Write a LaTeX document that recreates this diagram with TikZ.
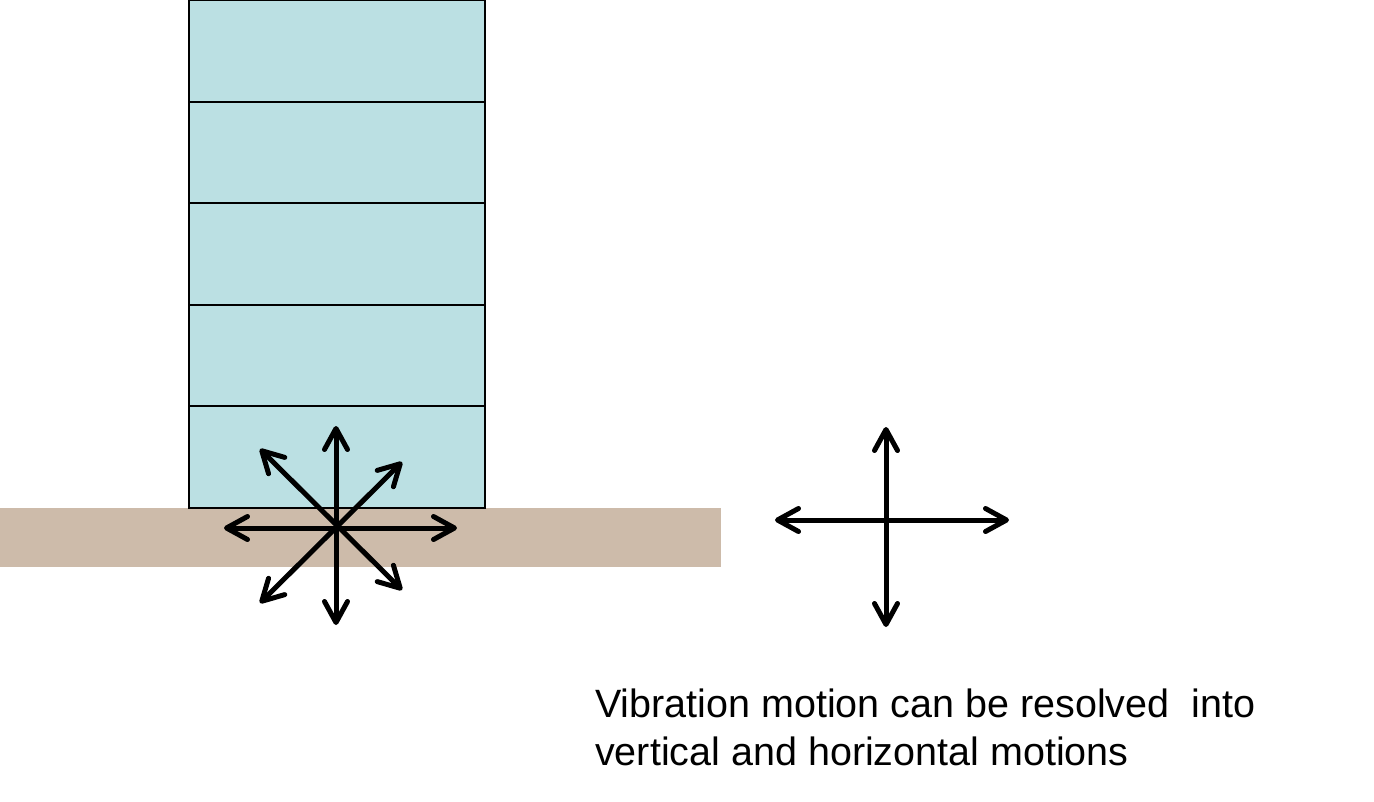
\documentclass[tikz,border=0pt]{standalone}
\usepackage{fontspec}
\setmainfont{Liberation Sans}
\usetikzlibrary{arrows.meta}
\definecolor{floorblue}{HTML}{BBE0E3}
\definecolor{soil}{HTML}{CDBBAA}

\begin{document}
\begin{tikzpicture}[x=1pt,y=-1pt,
  motion/.style={line width=5pt,
    {Straight Barb[length=21pt,width=23pt,round]}-{Straight Barb[length=21pt,width=23pt,round]}}]
\useasboundingbox (0,0) rectangle (1374,801);
% ground and building
\fill[soil] (0,508) rectangle (721,567);
\foreach \k in {0,...,4}
  \draw[line width=2pt,fill=floorblue] (189,{\k*101.6}) rectangle (485,{(\k+1)*101.6});
% vibration at the base
\coordinate (up) at (336,426);
\coordinate (down) at (336,625);
\coordinate (left) at (224,528);
\coordinate (right) at (457,528);
\coordinate (ul) at (260,449);
\coordinate (lr) at (402,590);
\coordinate (ur) at (402,462);
\coordinate (ll) at (260,603);
\draw[motion] (up) -- (down);
\draw[motion] (left) -- (right);
\draw[motion] (ul) -- (lr);
\draw[motion] (ur) -- (ll);
% resolved components
\coordinate (vtop) at (886,427);
\coordinate (vbot) at (886,627);
\coordinate (hleft) at (775,520);
\coordinate (hright) at (1009,520);
\draw[motion] (vtop) -- (vbot);
\draw[motion] (hleft) -- (hright);
\node[anchor=base west,align=left,inner sep=0pt,font=\fontsize{39.5}{48}\selectfont]
  (caption) at (595,765) {Vibration motion can be resolved\ \ into\\vertical and horizontal motions};
\end{tikzpicture}
\end{document}
